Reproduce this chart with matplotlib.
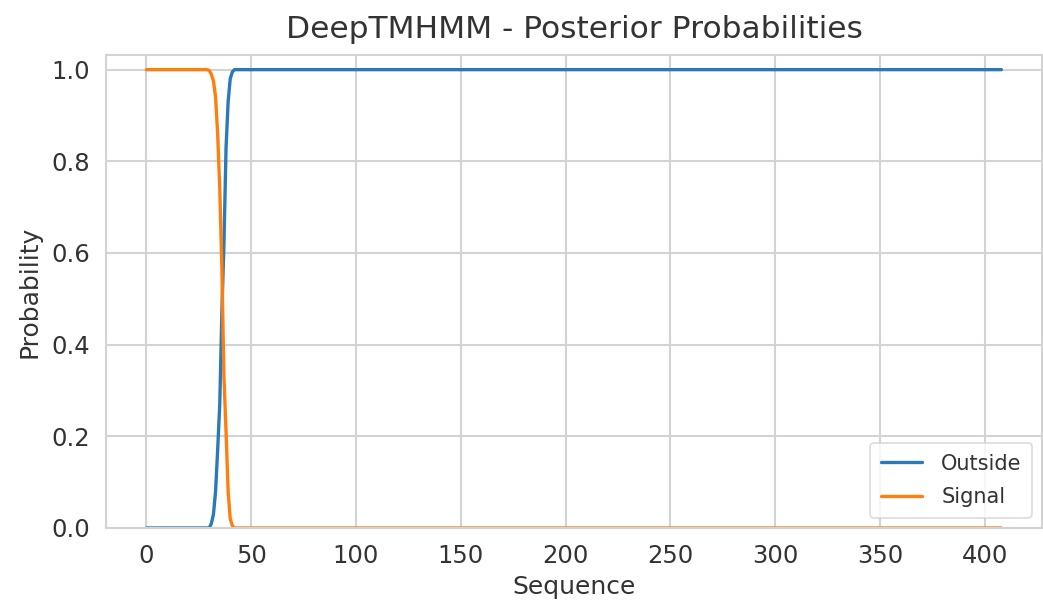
import matplotlib
matplotlib.use("Agg")
import matplotlib.pyplot as plt
import seaborn as sns
import numpy as np

# Data (residue positions 0..408)
n_residues = 409
signal_transition = [0.998, 0.99, 0.975, 0.94, 0.86, 0.74, 0.57, 0.33, 0.21, 0.08, 0.02, 0.005]   # residues 30..41
outside_transition = [0.0, 0.01, 0.03, 0.08, 0.17, 0.27, 0.47, 0.62, 0.83, 0.93, 0.98, 0.995]      # residues 30..41
transition_start = 30

signal = [1.0] * transition_start + signal_transition + [0.0] * (n_residues - transition_start - len(signal_transition))
outside = [0.0] * transition_start + outside_transition + [1.0] * (n_residues - transition_start - len(outside_transition))
positions = list(range(n_residues))

series_labels = ["Outside", "Signal"]
title = "DeepTMHMM - Posterior Probabilities"
xlabel = "Sequence"
ylabel = "Probability"
xticks = [0, 50, 100, 150, 200, 250, 300, 350, 400]
yticks = [0.0, 0.2, 0.4, 0.6, 0.8, 1.0]

sns.set_style("whitegrid")
plt.rcParams['font.family'] = ['DejaVu Sans']

fig = plt.figure(figsize=(10.43, 6.01), dpi=100)
ax = fig.add_axes([0.102, 0.1215, 0.8975, 0.787])

ax.plot(positions, outside, color="#2a7ab9", lw=2.4, label=series_labels[0])
ax.plot(positions, signal, color="#ff7f0e", lw=2.4, label=series_labels[1])

ax.set_xlim(-19.1, 427.6)
ax.set_ylim(0, 1.032)
ax.set_xticks(xticks)
ax.set_yticks(yticks)
ax.set_yticklabels([f"{v:.1f}" for v in yticks])
ax.tick_params(labelsize=17.5, colors="#333333", pad=8)
ax.grid(True, color="#d3d3d3", lw=1.5)
for s in ax.spines.values():
    s.set_color("#d3d3d3")
    s.set_linewidth(1.5)

ax.set_title(title, fontsize=22.5, color="#333333", pad=12)
ax.set_xlabel(xlabel, fontsize=18, color="#333333", labelpad=5)
ax.set_ylabel(ylabel, fontsize=18, color="#333333", labelpad=7)

leg = ax.legend(loc="lower right", fontsize=15, frameon=True, handlelength=2.0,
                borderpad=0.5, labelspacing=0.65, handletextpad=0.9)
leg.get_frame().set_edgecolor("#d3d3d3")
leg.get_frame().set_linewidth(1.2)
for t in leg.get_texts():
    t.set_color("#333333")

fig.savefig("out.png", dpi=100)
